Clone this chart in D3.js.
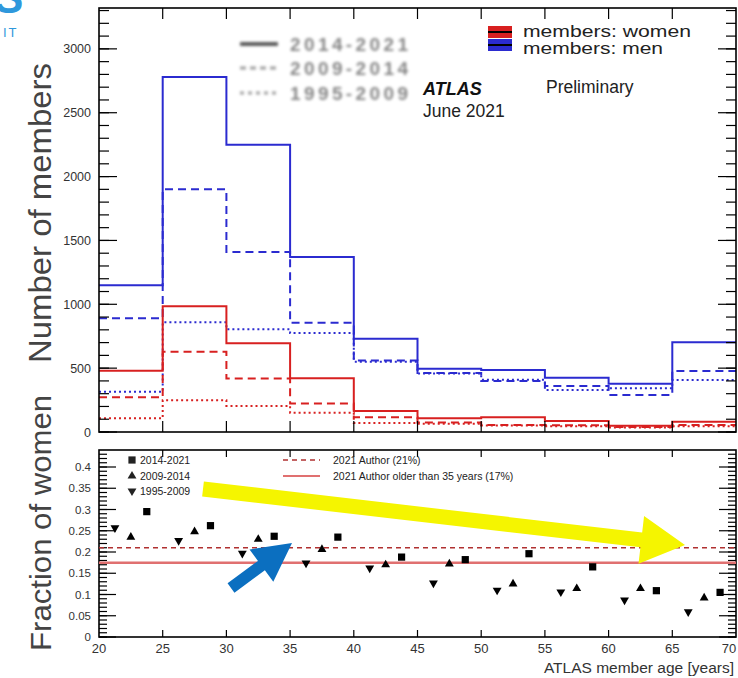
<!DOCTYPE html>
<html><head><meta charset="utf-8">
<script src="https://cdn.jsdelivr.net/npm/d3@7"></script>
<style>
html,body{margin:0;padding:0;background:#fff;}
svg{display:block;font-family:"Liberation Sans",Arial,sans-serif;}
</style></head>
<body>
<svg id="c" width="738" height="678"></svg>
<script>
// ---------- data ----------
const binEdges = [20,25,30,35,40,45,50,55,60,65,70];
const menA   = [1150,2780,2250,1370,730,495,485,425,378,702];   // 2014-2021
const menB   = [890,1900,1410,855,560,462,400,360,290,478];     // 2009-2014
const menC   = [315,860,805,775,550,458,410,329,342,407];       // 1995-2009
const womenA = [480,985,695,420,165,107,115,86,49,80];
const womenB = [272,628,418,224,115,75,55,52,40,55];
const womenC = [108,248,204,150,70,65,50,45,35,45];

const frac2014 = [0.295,0.262,0.237,0.235,0.188,0.182,0.196,0.165,0.109,0.105];
const frac2009 = [0.235,0.248,0.230,0.206,0.170,0.172,0.125,0.114,0.114,0.092];
const frac1995 = [0.257,0.227,0.197,0.174,0.162,0.127,0.110,0.106,0.087,0.059];

const topYTicks = [0,500,1000,1500,2000,2500,3000];
const botYTicks = [0,0.05,0.1,0.15,0.2,0.25,0.3,0.35,0.4];
const xTicks = [20,25,30,35,40,45,50,55,60,65,70];
const periodLabels = ["2014-2021","2009-2014","1995-2009"];
const authorAll = 0.21, authorOld = 0.175;

// ---------- setup ----------
const svg = d3.select("#c");
const BLUE = "#2b2bd0", RED = "#d82020";
const L = 99, R = 736;
const x = d3.scaleLinear().domain([20,70]).range([L,R]);
const yT = d3.scaleLinear().domain([0,3320]).range([432,8]);
const yB = d3.scaleLinear().domain([0,0.44]).range([637,450]);

const defs = svg.append("defs");
defs.append("filter").attr("id","blur").attr("x","-10%").attr("y","-20%").attr("width","120%").attr("height","140%")
  .append("feGaussianBlur").attr("stdDeviation",1.7);
defs.append("clipPath").attr("id","clipT").append("rect").attr("x",L).attr("y",8).attr("width",R-L).attr("height",424);

// ---------- logo fragment ----------
svg.append("text").attr("x",-6).attr("y",13).attr("font-size",44).attr("font-weight","bold").attr("fill","#2f98dc").text("S");
svg.append("text").attr("x",3).attr("y",37).attr("font-size",13).attr("fill","#2f98dc").attr("letter-spacing",2).text("IT");

// ---------- axis titles ----------
svg.append("text").attr("transform","translate(51,213) rotate(-90)").attr("text-anchor","middle")
  .attr("font-size",31).attr("fill","#444").attr("textLength",300).attr("lengthAdjust","spacingAndGlyphs").text("Number of members");
svg.append("text").attr("transform","translate(51,523) rotate(-90)").attr("text-anchor","middle")
  .attr("font-size",30).attr("fill","#444").attr("textLength",256).attr("lengthAdjust","spacingAndGlyphs").text("Fraction of women");

// ---------- histograms ----------
function stepPath(vals, ys){
  const pts = [];
  vals.forEach((v,i)=>{ pts.push([x(binEdges[i]), ys(v)]); pts.push([x(binEdges[i+1]), ys(v)]); });
  return d3.line()(pts);
}
const gH = svg.append("g").attr("clip-path","url(#clipT)");
const styles = [null,"8,5","2,3"];
[[menC,BLUE,2],[menB,BLUE,1],[menA,BLUE,0],[womenC,RED,2],[womenB,RED,1],[womenA,RED,0]].forEach(([v,c,s])=>{
  gH.append("path").attr("d",stepPath(v,yT)).attr("fill","none").attr("stroke",c)
    .attr("stroke-width",2).attr("stroke-dasharray",styles[s]);
});

// ---------- frames & ticks ----------
function frame(y0,y1){
  svg.append("rect").attr("x",L).attr("y",y0).attr("width",R-L).attr("height",y1-y0)
    .attr("fill","none").attr("stroke","#000").attr("stroke-width",1.6);
}
function ticks(yScale, y0, y1, majors, minors, majLen, minLen, xLen){
  const g = svg.append("g").attr("stroke","#000").attr("stroke-width",1.2);
  minors.forEach(v=>{ const yy=yScale(v);
    g.append("line").attr("x1",L).attr("x2",L+minLen).attr("y1",yy).attr("y2",yy);
    g.append("line").attr("x1",R).attr("x2",R-minLen).attr("y1",yy).attr("y2",yy); });
  majors.forEach(v=>{ const yy=yScale(v);
    g.append("line").attr("x1",L).attr("x2",L+majLen).attr("y1",yy).attr("y2",yy);
    g.append("line").attr("x1",R).attr("x2",R-majLen).attr("y1",yy).attr("y2",yy); });
  xTicks.slice(1,-1).forEach(v=>{ const xx=x(v);
    g.append("line").attr("x1",xx).attr("x2",xx).attr("y1",y1).attr("y2",y1-xLen);
    g.append("line").attr("x1",xx).attr("x2",xx).attr("y1",y0).attr("y2",y0+xLen); });
}
frame(8,432);
ticks(yT,8,432,topYTicks,d3.range(0,3320,100),18,10,11);
frame(450,637);
ticks(yB,450,637,botYTicks,d3.range(0,0.44,0.01),17,8,7);

// tick labels
svg.append("g").selectAll("text").data(topYTicks).join("text")
  .attr("x",91).attr("y",d=>yT(d)+4.5).attr("text-anchor","end").attr("font-size",12.5).attr("fill","#333").text(d=>d);
svg.append("g").selectAll("text").data(botYTicks).join("text")
  .attr("x",91).attr("y",d=>yB(d)+4).attr("text-anchor","end").attr("font-size",11.5).attr("fill","#333").text(d=>d);
svg.append("g").selectAll("text").data(xTicks).join("text")
  .attr("x",d=>Math.min(x(d),729)).attr("y",653).attr("text-anchor","middle").attr("font-size",13).attr("fill","#333").text(d=>d);
svg.append("text").attr("x",734).attr("y",673).attr("text-anchor","end").attr("font-size",15.5).attr("fill","#333").text("ATLAS member age [years]");

// ---------- top legends ----------
const gl = svg.append("g").attr("filter","url(#blur)");
gl.append("rect").attr("x",232).attr("y",30).attr("width",180).attr("height",76).attr("fill","#fff").attr("fill-opacity",0.01);
const lyS=[44,68,93];
[null,"6,4","4,4"].forEach((d,i)=>{
  gl.append("line").attr("x1",240).attr("x2",278).attr("y1",lyS[i]).attr("y2",lyS[i]).attr("stroke",i==0?"#444":"#555")
    .attr("stroke-width",i==0?4:3).attr("stroke-dasharray",d).attr("opacity",i==0?0.9:0.6);
  gl.append("text").attr("x",290).attr("y",lyS[i]+7).attr("font-size",19).attr("font-weight","bold").attr("fill","#666")
    .attr("textLength",118).attr("opacity",0.8).text(periodLabels[i]);
});
[[RED,"members: women",26],[BLUE,"members: men",39]].forEach(([c,t,y0])=>{
  svg.append("rect").attr("x",488).attr("y",y0).attr("width",24).attr("height",12).attr("fill",c);
  svg.append("line").attr("x1",488).attr("x2",512).attr("y1",y0+6).attr("y2",y0+6).attr("stroke","#000").attr("stroke-width",2);
});
svg.append("text").attr("x",523).attr("y",36.5).attr("font-size",16).attr("fill","#222").attr("textLength",168).attr("lengthAdjust","spacingAndGlyphs").text("members: women");
svg.append("text").attr("x",523).attr("y",53.5).attr("font-size",16).attr("fill","#222").attr("textLength",140).attr("lengthAdjust","spacingAndGlyphs").text("members: men");
svg.append("text").attr("x",423).attr("y",95).attr("font-size",18).attr("font-weight","bold").attr("font-style","italic").attr("fill","#111").text("ATLAS");
svg.append("text").attr("x",546).attr("y",93).attr("font-size",17.5).attr("fill","#222").text("Preliminary");
svg.append("text").attr("x",423).attr("y",117).attr("font-size",17.5).attr("fill","#222").text("June 2021");

// ---------- lower panel ----------
svg.append("line").attr("x1",L).attr("x2",R).attr("y1",yB(authorOld)).attr("y2",yB(authorOld)).attr("stroke","#e07070").attr("stroke-width",2.5);
svg.append("line").attr("x1",L).attr("x2",R).attr("y1",yB(authorAll)).attr("y2",yB(authorAll)).attr("stroke","#b03030").attr("stroke-width",1.3).attr("stroke-dasharray","5,4");

const sqr = d3.symbol().type(d3.symbolSquare).size(52);
const tri = d3.symbol().type(d3.symbolTriangle).size(34);
const gp = svg.append("g");
frac1995.forEach((v,i)=>gp.append("path").attr("d",tri).attr("transform",`translate(${x(binEdges[i]+1.25)},${yB(v)}) rotate(180)`));
frac2009.forEach((v,i)=>gp.append("path").attr("d",tri).attr("transform",`translate(${x(binEdges[i]+2.5)},${yB(v)})`));
frac2014.forEach((v,i)=>gp.append("path").attr("d",sqr).attr("transform",`translate(${x(binEdges[i]+3.75)},${yB(v)})`));

// lower legend
const lg = svg.append("g").attr("font-size",10.5).attr("fill","#222");
lg.append("path").attr("d",sqr).attr("transform","translate(132,460)");
lg.append("path").attr("d",tri).attr("transform","translate(132,476)");
lg.append("path").attr("d",tri).attr("transform","translate(132,491) rotate(180)");
periodLabels.forEach((t,i)=>lg.append("text").attr("x",140).attr("y",[464,480,495][i]).text(t));
lg.append("line").attr("x1",283).attr("x2",320).attr("y1",460).attr("y2",460).attr("stroke","#b03030").attr("stroke-width",1.3).attr("stroke-dasharray","5,4");
lg.append("line").attr("x1",283).attr("x2",320).attr("y1",476).attr("y2",476).attr("stroke","#e07070").attr("stroke-width",2.2);
lg.append("text").attr("x",333).attr("y",464).text("2021 Author (21%)");
lg.append("text").attr("x",333).attr("y",480).text("2021 Author older than 35 years (17%)");

// ---------- annotation arrows ----------
function arrow(x0,y0,x1,y1,hw,headW,headL,color){
  const dx=x1-x0, dy=y1-y0, len=Math.hypot(dx,dy), ux=dx/len, uy=dy/len, nx=-uy, ny=ux;
  const bx=x1-ux*headL, by=y1-uy*headL;
  const p=[[x0+nx*hw,y0+ny*hw],[bx+nx*hw,by+ny*hw],[bx+nx*headW,by+ny*headW],[x1,y1],
           [bx-nx*headW,by-ny*headW],[bx-nx*hw,by-ny*hw],[x0-nx*hw,y0-ny*hw]];
  svg.append("path").attr("d",d3.line()(p)+"Z").attr("fill",color);
}
arrow(203,489,685,545,7.5,24,44,"#f5f500");
arrow(231,588,292,543,5.8,20,38,"#0b6fc0");
</script>
</body></html>
